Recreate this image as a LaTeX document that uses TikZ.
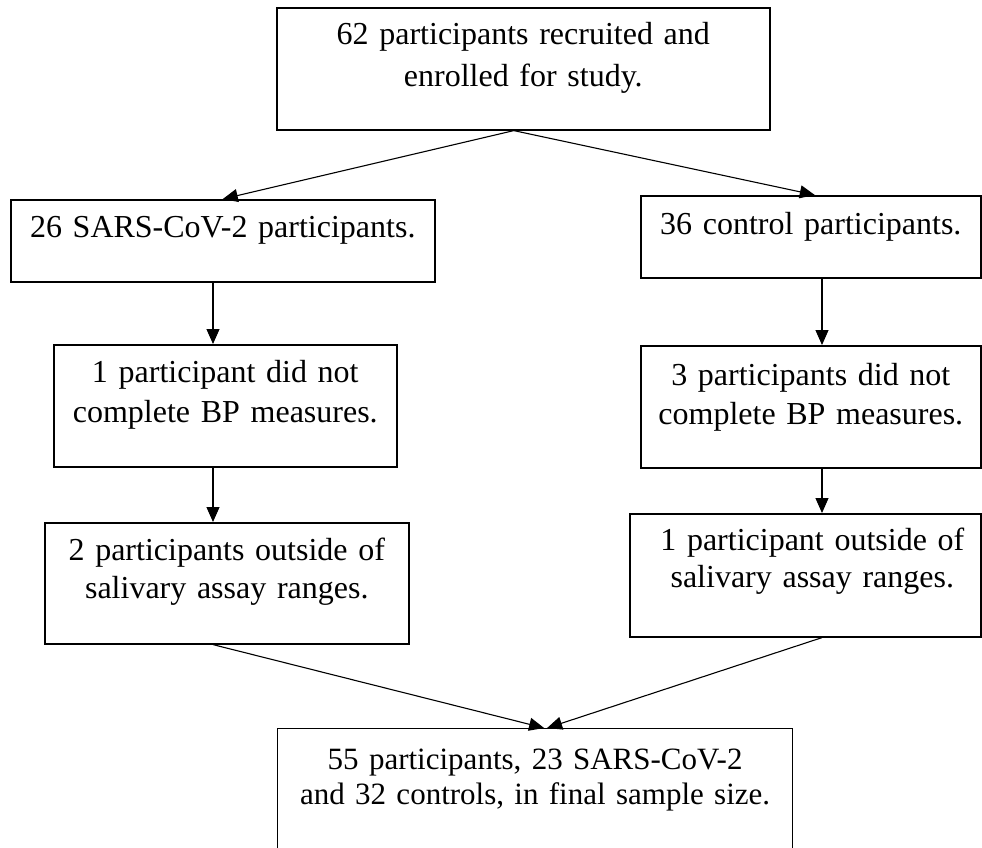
\documentclass[tikz,border=0pt]{standalone}
\usepackage{fontspec}
\setmainfont{Liberation Serif}
\usetikzlibrary{arrows.meta}
\begin{document}
\begin{tikzpicture}[x=1pt,y=-1pt,
  flowbox/.style={draw, line width=1.6pt, inner sep=0pt, anchor=north west, align=center},
  arr/.style={line width=1.1pt, -{Triangle[length=15pt,width=13pt]}}]
\useasboundingbox (0,0) rectangle (982,847);
\coordinate (colL) at (213,0);
\coordinate (colR) at (822,0);
\node[flowbox, text width=493pt, text height=37pt, text depth=85pt, font=\fontsize{32}{41.5}\selectfont] (b1) at (276,7) {62 participants recruited and\\enrolled for study.};
\node[flowbox, text width=424pt, text height=38pt, text depth=44pt, font=\fontsize{32}{40}\selectfont] (b2) at (10,199) {26 SARS-CoV-2 participants.};
\node[flowbox, text width=340pt, text height=39pt, text depth=43pt, font=\fontsize{32}{40}\selectfont] (b3) at (640,195) {36 control participants.};
\node[flowbox, text width=343pt, text height=38pt, text depth=84pt, font=\fontsize{32}{40}\selectfont] (b4) at (53,344) {1 participant did not\\complete BP measures.};
\node[flowbox, text width=340pt, text height=40pt, text depth=82pt, font=\fontsize{32}{39}\selectfont] (b5) at (640,345) {3 participants did not\\complete BP measures.};
\node[flowbox, text width=364pt, text height=38pt, text depth=83pt, font=\fontsize{32}{38}\selectfont] (b6) at (44,522) {2 participants outside of\\salivary assay ranges.};
\node[flowbox, text width=351pt, text height=37pt, text depth=86pt, font=\fontsize{32}{37}\selectfont] (b7) at (629,513) {\hspace*{14pt}1 participant outside of\\\hspace*{14pt}salivary assay ranges.};
\node[flowbox, line width=1.2pt, text width=515pt, text height=41pt, text depth=119pt, font=\fontsize{31}{35}\selectfont] (b8) at (277,728) {55 participants, 23 SARS-CoV-2\\and 32 controls, in final sample size.};
\draw[arr] ([xshift=-9.5pt]b1.south) -- (b2.north);
\draw[arr] ([xshift=-9.5pt]b1.south) -- ([xshift=4pt]b3.north);
\draw[arr] (b2.south -| colL) -- (b4.north -| colL);
\draw[arr] (b4.south -| colL) -- (b6.north -| colL);
\draw[arr] (b3.south -| colR) -- (b5.north -| colR);
\draw[arr] (b5.south -| colR) -- (b7.north -| colR);
\draw[arr] (b6.south -| colL) -- ([xshift=9pt]b8.north);
\draw[arr] (b7.south -| colR) -- ([xshift=12pt]b8.north);
\end{tikzpicture}
\end{document}
